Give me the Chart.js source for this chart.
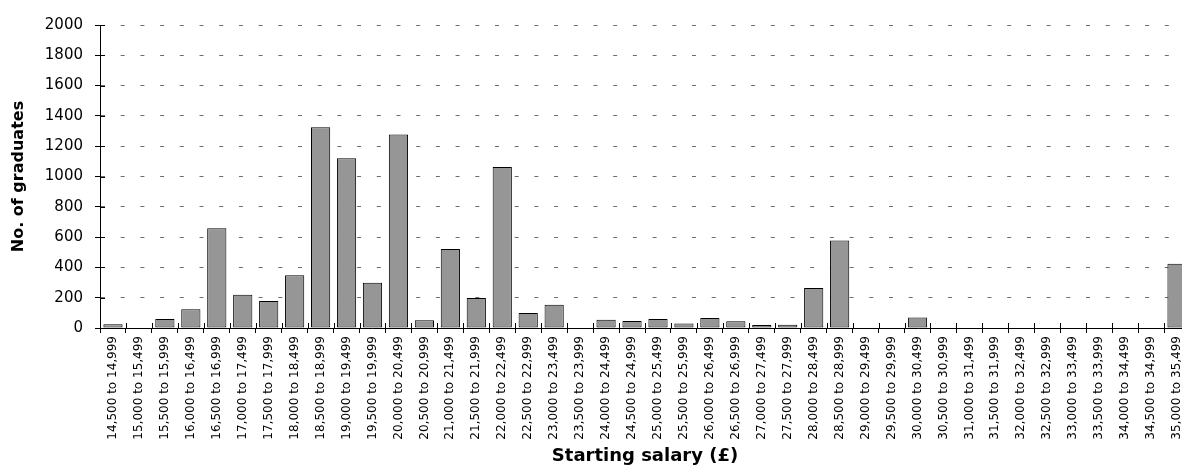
<!DOCTYPE html>
<html>
<head>
<meta charset="utf-8">
<script src="https://cdn.jsdelivr.net/npm/chart.js@4/dist/chart.umd.min.js"></script>
<style>
  html, body { margin: 0; padding: 0; background: #fff; overflow: hidden; }
  #wrap { position: relative; width: 1200px; height: 472px; }
</style>
</head>
<body>
<div id="wrap"><canvas id="chart"></canvas></div>
<script>
// Salary bands (£)
const salaryBands = [
  '14,500 to 14,999', '15,000 to 15,499', '15,500 to 15,999', '16,000 to 16,499',
  '16,500 to 16,999', '17,000 to 17,499', '17,500 to 17,999', '18,000 to 18,499',
  '18,500 to 18,999', '19,000 to 19,499', '19,500 to 19,999', '20,000 to 20,499',
  '20,500 to 20,999', '21,000 to 21,499', '21,500 to 21,999', '22,000 to 22,499',
  '22,500 to 22,999', '23,000 to 23,499', '23,500 to 23,999', '24,000 to 24,499',
  '24,500 to 24,999', '25,000 to 25,499', '25,500 to 25,999', '26,000 to 26,499',
  '26,500 to 26,999', '27,000 to 27,499', '27,500 to 27,999', '28,000 to 28,499',
  '28,500 to 28,999', '29,000 to 29,499', '29,500 to 29,999', '30,000 to 30,499',
  '30,500 to 30,999', '31,000 to 31,499', '31,500 to 31,999', '32,000 to 32,499',
  '32,500 to 32,999', '33,000 to 33,499', '33,500 to 33,999', '34,000 to 34,499',
  '34,500 to 34,999', '35,000 to 35,499'
];

// Number of graduates in each band
const graduates = [
  25, 0, 60, 123, 659, 220, 178, 349, 1325, 1121, 299, 1277,
  51, 521, 198, 1062, 99, 154, 0, 55, 46, 59, 29, 66,
  44, 20, 22, 264, 578, 0, 0, 70, 0, 0, 0, 0,
  0, 0, 0, 0, 0, 424
];

// Value axis ticks
const yMin = 0;
const yMax = 2000;
const yStep = 200;

const FONT = '"DejaVu Sans", Verdana, sans-serif';

// Short tick marks that cross both axes into the plot area
const crossTicks = {
  id: 'crossTicks',
  afterDatasetsDraw(chart) {
    const { ctx, chartArea, scales: { x, y } } = chart;
    ctx.save();
    ctx.strokeStyle = '#000';
    ctx.lineWidth = 1;
    ctx.beginPath();
    y.ticks.forEach((t, i) => {
      const py = Math.round(y.getPixelForTick(i)) + 0.5;
      ctx.moveTo(chartArea.left, py);
      ctx.lineTo(chartArea.left + 5, py);
    });
    const half = (x.getPixelForValue(1) - x.getPixelForValue(0)) / 2;
    for (let i = 0; i <= salaryBands.length; i++) {
      const px = Math.round(x.getPixelForValue(i) - half) + 0.5;
      ctx.moveTo(px, chartArea.bottom);
      ctx.lineTo(px, chartArea.bottom - 5);
    }
    ctx.stroke();
    ctx.restore();
  }
};

new Chart(document.getElementById('chart'), {
  type: 'bar',
  data: {
    labels: salaryBands,
    datasets: [{
      data: graduates,
      backgroundColor: '#969696',
      borderColor: '#000',
      borderWidth: 1,
      borderSkipped: false,
      barPercentage: 0.74,
      categoryPercentage: 1.0
    }]
  },
  options: {
    responsive: true,
    maintainAspectRatio: false,
    animation: false,
    events: [],
    layout: { padding: { left: 9, right: 10, top: 25, bottom: 5 } },
    plugins: {
      legend: { display: false },
      tooltip: { enabled: false }
    },
    scales: {
      x: {
        offset: true,
        grid: {
          display: true,
          drawOnChartArea: false,
          drawTicks: true,
          offset: true,
          tickLength: 5,
          tickColor: '#000',
          tickWidth: 1
        },
        border: { display: true, color: '#000', width: 1 },
        ticks: {
          autoSkip: false,
          minRotation: 90,
          maxRotation: 90,
          padding: 3,
          color: '#000',
          font: { family: FONT, size: 12 }
        },
        title: {
          display: true,
          text: 'Starting salary (£)',
          color: '#000',
          padding: 0,
          font: { family: FONT, size: 18, weight: 'bold', lineHeight: 1.2 }
        },
        afterFit(scale) { scale.height = 139; }
      },
      y: {
        min: yMin,
        max: yMax,
        grid: {
          color: (c) => (c.tick && c.tick.value === 0 ? 'rgba(0,0,0,0)' : '#6e6e6e'),
          lineWidth: 1,
          drawTicks: true,
          tickLength: 5,
          tickColor: '#000',
          tickWidth: 1
        },
        border: { display: true, color: '#000', width: 1, dash: [4, 15.7] },
        ticks: {
          stepSize: yStep,
          padding: 12,
          color: '#000',
          font: { family: FONT, size: 15 },
          callback: (v) => String(v)
        },
        title: {
          display: true,
          text: 'No. of graduates',
          color: '#000',
          padding: 0,
          font: { family: FONT, size: 16, weight: 'bold', lineHeight: 1.2 }
        },
        afterFit(scale) { scale.width = 91; }
      }
    }
  },
  plugins: [crossTicks]
});
</script>
</body>
</html>
